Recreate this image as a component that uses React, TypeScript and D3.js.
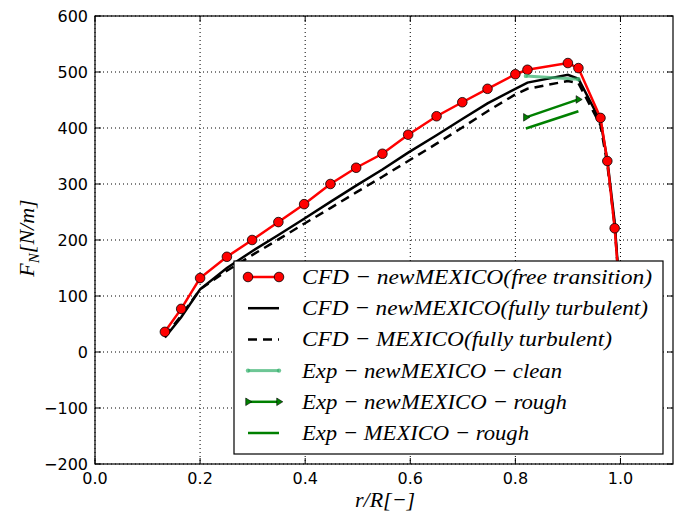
import React from "react";
import * as d3 from "d3";

const rCFD = [0.133, 0.164, 0.2, 0.251, 0.299, 0.349, 0.398, 0.448, 0.497, 0.547, 0.596, 0.65, 0.699, 0.747, 0.8, 0.823, 0.9, 0.92, 0.962, 0.975, 0.989, 0.999];
const fnFree = [36, 77, 132, 170, 200, 232, 264, 300, 329, 354, 388, 421, 446, 470, 496, 504, 516, 507, 418, 341, 221, 100];
const fnNewTurb = [26, 62, 112, 150, 180, 209, 238, 268, 297, 326, 356, 387, 416, 444, 470, 481, 495, 488, 412, 343, 232, 100];
const fnOldTurb = [28, 65, 112, 145, 173, 201, 229, 257, 285, 313, 341, 372, 401, 430, 460, 470, 484, 480, 405, 335, 225, 95];

const rExp = [0.82, 0.92];
const expNewClean = [493, 487];
const expNewRough = [419, 451];
const expOldRough = [399, 430];

const xTicks = [0, 0.2, 0.4, 0.6, 0.8, 1.0];
const yTicks = [-200, -100, 0, 100, 200, 300, 400, 500, 600];

const legendLabels = [
  "CFD − newMEXICO(free transition)",
  "CFD − newMEXICO(fully turbulent)",
  "CFD − MEXICO(fully turbulent)",
  "Exp − newMEXICO − clean",
  "Exp − newMEXICO − rough",
  "Exp − MEXICO − rough",
];
const legendWidths = [350, 346, 310, 260, 265, 227];

export default function App() {
  const L = 95, R = 673, T = 16, B = 464;
  const x = d3.scaleLinear().domain([0, 1.1]).range([L, R]);
  const y = d3.scaleLinear().domain([-200, 600]).range([B, T]);
  const line = d3.line<[number, number]>().x((d) => x(d[0])).y((d) => y(d[1]));
  const zip = (a: number[], b: number[]) => a.map((v, i) => [v, b[i]] as [number, number]);

  const free = zip(rCFD, fnFree);
  const newTurb = zip(rCFD, fnNewTurb);
  const oldTurb = zip(rCFD, fnOldTurb);
  const nClean = zip(rExp, expNewClean);
  const nRough = zip(rExp, expNewRough);
  const oRough = zip(rExp, expOldRough);

  const tri = (cx: number, cy: number, s: number) =>
    `M${cx + s},${cy} L${cx - s * 0.6},${cy - s} L${cx - s * 0.6},${cy + s} Z`;

  const tickFont = { fontFamily: "DejaVu Sans", fontSize: 16, fill: "#000" } as const;
  const mathFont = { fontFamily: "Liberation Serif", fontStyle: "italic", fontSize: 22, fill: "#000" } as const;

  const lgX = 234, lgY = 261, lgW = 429, lgH = 193;
  const rowY = (i: number) => 277 + i * 31.2;
  const h0 = 248, h1 = 279;

  return (
    <svg width={680} height={515} style={{ position: "absolute", left: 0, top: 0, background: "#fff" }}>
      <rect x={0} y={0} width={680} height={515} fill="#fff" />
      {/* grid */}
      <g stroke="#000" strokeWidth={1} strokeDasharray="1,3">
        {xTicks.map((t) => (
          <line key={"gx" + t} x1={x(t)} x2={x(t)} y1={T} y2={B} />
        ))}
        {yTicks.map((t) => (
          <line key={"gy" + t} x1={L} x2={R} y1={y(t)} y2={y(t)} />
        ))}
      </g>
      {/* ticks inside */}
      <g stroke="#000" strokeWidth={1}>
        {xTicks.map((t) => (
          <g key={"tx" + t}>
            <line x1={x(t)} x2={x(t)} y1={B} y2={B - 6} />
            <line x1={x(t)} x2={x(t)} y1={T} y2={T + 6} />
          </g>
        ))}
        {yTicks.map((t) => (
          <g key={"ty" + t}>
            <line x1={L} x2={L + 6} y1={y(t)} y2={y(t)} />
            <line x1={R} x2={R - 6} y1={y(t)} y2={y(t)} />
          </g>
        ))}
      </g>
      {/* series */}
      <path d={line(oldTurb) || ""} fill="none" stroke="#000" strokeWidth={2.5} strokeDasharray="9,6" />
      <path d={line(newTurb) || ""} fill="none" stroke="#000" strokeWidth={2.5} />
      <path d={line(free) || ""} fill="none" stroke="#ff0000" strokeWidth={2.5} />
      {free.map((d, i) => (
        <circle key={"m" + i} cx={x(d[0])} cy={y(d[1])} r={4.8} fill="#ff0000" stroke="#000" strokeWidth={0.8} />
      ))}
      <path d={line(nClean) || ""} fill="none" stroke="#3cb371" strokeOpacity={0.75} strokeWidth={3} />
      {nClean.map((d, i) => (
        <circle key={"c" + i} cx={x(d[0])} cy={y(d[1])} r={2.2} fill="#3cb371" fillOpacity={0.75} />
      ))}
      <path d={line(nRough) || ""} fill="none" stroke="#008000" strokeWidth={2.5} />
      {nRough.map((d, i) => (
        <path key={"t" + i} d={tri(x(d[0]), y(d[1]), 3.8)} fill="#008000" stroke="#000" strokeWidth={0.6} />
      ))}
      <path d={line(oRough) || ""} fill="none" stroke="#008000" strokeWidth={2.5} />

      {/* frame */}
      <rect x={L} y={T} width={R - L} height={B - T} fill="none" stroke="#000" strokeWidth={1.2} />

      {/* tick labels */}
      {xTicks.map((t) => (
        <text key={"lx" + t} x={x(t)} y={B + 20} textAnchor="middle" {...tickFont}>
          {t.toFixed(1)}
        </text>
      ))}
      {yTicks.map((t) => (
        <text key={"ly" + t} x={L - 7} y={y(t) + 6} textAnchor="end" {...tickFont}>
          {t < 0 ? "−" + Math.abs(t) : String(t)}
        </text>
      ))}

      {/* axis labels */}
      <text x={385} y={507} textAnchor="middle" {...mathFont}>
        r/R[−]
      </text>
      <text transform="translate(34,238) rotate(-90)" textAnchor="middle" {...mathFont}>
        F<tspan fontSize={15} dy={5}>N</tspan>
        <tspan dy={-5}>[N/m]</tspan>
      </text>

      {/* legend */}
      <rect x={lgX} y={lgY} width={lgW} height={lgH} fill="#fff" stroke="#000" strokeWidth={1.2} />
      <line x1={h0} x2={h1} y1={rowY(0)} y2={rowY(0)} stroke="#ff0000" strokeWidth={2.5} />
      <circle cx={h0} cy={rowY(0)} r={4.8} fill="#ff0000" stroke="#000" strokeWidth={0.8} />
      <circle cx={h1} cy={rowY(0)} r={4.8} fill="#ff0000" stroke="#000" strokeWidth={0.8} />
      <line x1={h0} x2={h1} y1={rowY(1)} y2={rowY(1)} stroke="#000" strokeWidth={2.5} />
      <line x1={h0} x2={h1} y1={rowY(2)} y2={rowY(2)} stroke="#000" strokeWidth={2.5} strokeDasharray="9,6" />
      <line x1={h0} x2={h1} y1={rowY(3)} y2={rowY(3)} stroke="#3cb371" strokeOpacity={0.75} strokeWidth={3} />
      <circle cx={h0} cy={rowY(3)} r={2.2} fill="#3cb371" fillOpacity={0.75} />
      <circle cx={h1} cy={rowY(3)} r={2.2} fill="#3cb371" fillOpacity={0.75} />
      <line x1={h0} x2={h1} y1={rowY(4)} y2={rowY(4)} stroke="#008000" strokeWidth={2.5} />
      <path d={tri(h0, rowY(4), 3.8)} fill="#008000" stroke="#000" strokeWidth={0.6} />
      <path d={tri(h1, rowY(4), 3.8)} fill="#008000" stroke="#000" strokeWidth={0.6} />
      <line x1={h0} x2={h1} y1={rowY(5)} y2={rowY(5)} stroke="#008000" strokeWidth={2.5} />
      {legendLabels.map((s, i) => (
        <text
          key={"lg" + i}
          x={302}
          y={rowY(i) + 7}
          textLength={legendWidths[i]}
          lengthAdjust="spacingAndGlyphs"
          {...mathFont}
        >
          {s}
        </text>
      ))}
    </svg>
  );
}
